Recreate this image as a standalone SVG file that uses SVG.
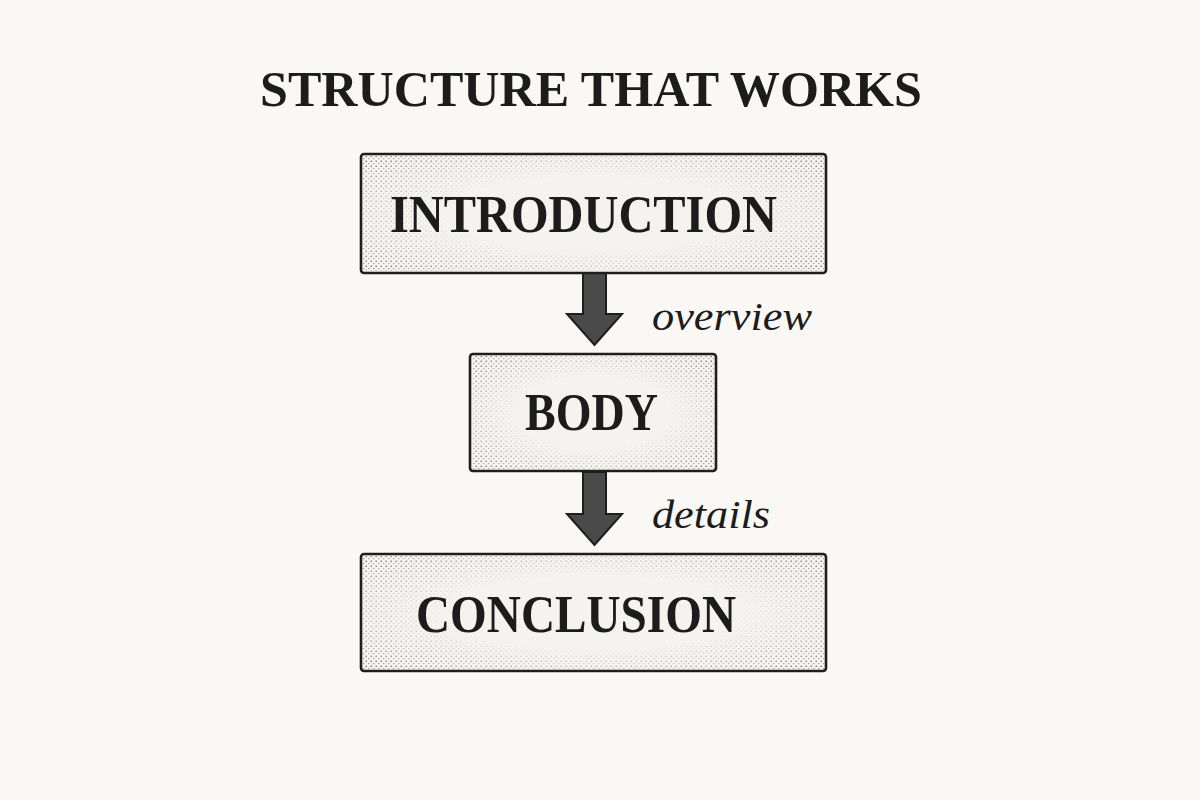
<svg xmlns="http://www.w3.org/2000/svg" width="1200" height="800" viewBox="0 0 1200 800">
  <style>
    .box { stroke: #1e1e1e; stroke-width: 2.6; }
    .label { font-family: "Liberation Serif", "DejaVu Serif", serif; font-weight: bold; fill: #1c1c1c; text-anchor: middle; }
    .note { font-family: "Liberation Serif", "DejaVu Serif", serif; font-style: italic; fill: #1c1c1c; }
    .arrow { fill: #4a4a4a; stroke: #1e1e1e; stroke-width: 2; stroke-linejoin: miter; }
  </style>
  <defs>
    <pattern id="dots" width="5" height="5" patternUnits="userSpaceOnUse">
      <circle cx="1.2" cy="1.3" r="0.8" fill="#333"/>
      <circle cx="3.8" cy="3.6" r="0.6" fill="#444"/>
    </pattern>
    <pattern id="adots" width="3" height="3" patternUnits="userSpaceOnUse">
      <rect width="3" height="3" fill="#5a5a5a"/>
      <circle cx="1" cy="1" r="0.7" fill="#222"/>
      <circle cx="2.4" cy="2.3" r="0.5" fill="#9a9a9a"/>
    </pattern>
    <radialGradient id="edge" cx="0.5" cy="0.5" r="0.7">
      <stop offset="0.45" stop-color="#000"/>
      <stop offset="1" stop-color="#fff"/>
    </radialGradient>
    <mask id="edgeMask" maskContentUnits="objectBoundingBox">
      <rect width="1" height="1" fill="url(#edge)"/>
    </mask>
  </defs>

  <rect width="1200" height="800" fill="#f9f8f5"/>

  <text class="label" x="591" y="106" font-size="50" textLength="662" lengthAdjust="spacingAndGlyphs">STRUCTURE THAT WORKS</text>

  <g id="connectors">
    <g id="arrow-intro-body">
      <path class="arrow" fill="url(#adots)" d="M583 273 H606 V314 H622 L594.5 345 L567 314 H583 Z"/>
      <text class="note" x="652" y="330" font-size="40" textLength="160" lengthAdjust="spacingAndGlyphs">overview</text>
    </g>
    <g id="arrow-body-conclusion">
      <path class="arrow" fill="url(#adots)" d="M583 472 H606 V514 H622 L594.5 545 L567 514 H583 Z"/>
      <text class="note" x="652" y="528" font-size="40" textLength="118" lengthAdjust="spacingAndGlyphs">details</text>
    </g>
  </g>

  <g id="introduction">
    <rect class="box" x="361" y="154" width="465" height="119" rx="3" fill="#f4f3ef"/>
    <rect x="363" y="156" width="461" height="115" fill="url(#dots)" mask="url(#edgeMask)" opacity="0.8"/>
    <text class="label" x="583.5" y="232" font-size="53" textLength="387" lengthAdjust="spacingAndGlyphs">INTRODUCTION</text>
  </g>

  <g id="body">
    <rect class="box" x="470" y="354" width="246" height="117" rx="3" fill="#f4f3ef"/>
    <rect x="472" y="356" width="242" height="113" fill="url(#dots)" mask="url(#edgeMask)" opacity="0.8"/>
    <text class="label" x="591.5" y="430" font-size="53" textLength="133" lengthAdjust="spacingAndGlyphs">BODY</text>
  </g>

  <g id="conclusion">
    <rect class="box" x="361" y="554" width="465" height="117" rx="3" fill="#f4f3ef"/>
    <rect x="363" y="556" width="461" height="113" fill="url(#dots)" mask="url(#edgeMask)" opacity="0.8"/>
    <text class="label" x="576" y="632" font-size="53" textLength="320" lengthAdjust="spacingAndGlyphs">CONCLUSION</text>
  </g>
</svg>
